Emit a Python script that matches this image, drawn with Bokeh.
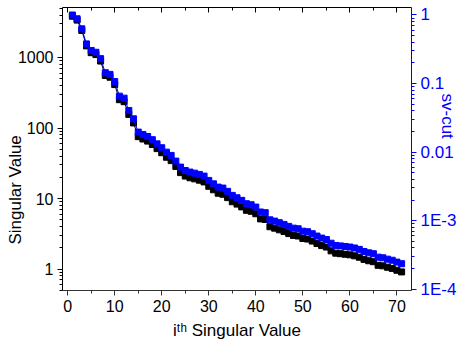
import math
from bokeh.plotting import figure
from bokeh.models import (Range1d, LogScale, LogAxis, LinearAxis, SingleIntervalTicker,
                          LogTicker, CustomJSTickFormatter, ColumnDataSource, Title)
from bokeh.embed import file_html
from bokeh.resources import INLINE

# ---- data ----
index = list(range(1, 72))
singular_value = [3850, 3390, 2420, 1460, 1170, 1100, 890, 555, 525, 413,
                  252, 236, 156, 118, 75.4, 69.8, 65.2, 58.4, 51.0, 44.6,
                  38.5, 34.5, 28.5, 23.3, 20.8, 19.7, 19.0, 18.2, 17.2, 14.9,
                  13.3, 11.9, 11.5, 10.3, 9.0, 8.33, 7.61, 6.81, 6.59, 6.08,
                  5.14, 5.04, 3.98, 3.80, 3.60, 3.40, 3.18, 3.00, 2.94, 2.71,
                  2.66, 2.49, 2.30, 2.15, 2.05, 1.81, 1.68, 1.65, 1.62, 1.59,
                  1.54, 1.47, 1.37, 1.31, 1.27, 1.13, 1.11, 1.06, 1.02, 0.96,
                  0.91]
sv_cut = [1.0, 0.881, 0.629, 0.379, 0.304, 0.286, 0.231, 0.144, 0.136, 0.107,
          0.0655, 0.0613, 0.0405, 0.0306, 0.0196, 0.0181, 0.0169, 0.0152, 0.0132, 0.0116,
          0.0100, 0.00896, 0.00740, 0.00605, 0.00540, 0.00512, 0.00494, 0.00473, 0.00447, 0.00387,
          0.00345, 0.00309, 0.00299, 0.00268, 0.00234, 0.00216, 0.00198, 0.00177, 0.00171, 0.00158,
          0.00134, 0.00131, 0.00103, 0.000987, 0.000935, 0.000883, 0.000826, 0.000779, 0.000764, 0.000704,
          0.000691, 0.000647, 0.000597, 0.000558, 0.000532, 0.000470, 0.000436, 0.000429, 0.000421, 0.000413,
          0.000400, 0.000382, 0.000356, 0.000340, 0.000330, 0.000294, 0.000288, 0.000275, 0.000265, 0.000249,
          0.000236]

x_title = "i\u1d57\u02b0 Singular Value"
y_title = "Singular Value"
y2_title = "sv-cut"

FONT = "Liberation Sans"
BLUE = "#0000FF"

src = ColumnDataSource(dict(x=index, sv=singular_value, cut=sv_cut))

p = figure(width=461, height=343, output_backend="svg", toolbar_location=None,
           x_range=Range1d(-1.1, 73.1), y_range=Range1d(0.496, 5117),
           y_axis_type="log", x_axis_location=None, y_axis_location=None,
           min_border_left=62, min_border_right=50, min_border_top=7, min_border_bottom=53)
p.extra_y_ranges = {"cut": Range1d(9.6e-5, 1.286)}
p.extra_y_scales = {"cut": LogScale()}
p.xgrid.visible = False
p.ygrid.visible = False
p.outline_line_color = None
p.background_fill_color = "white"
p.border_fill_color = "white"

# bottom axis
xb = LinearAxis(ticker=SingleIntervalTicker(interval=10, num_minor_ticks=2), axis_label=x_title)
xb.major_tick_out = 5
xb.major_tick_in = 0
xb.minor_tick_out = 3
xb.minor_tick_in = 0
xb.axis_line_color = "#333333"
xb.major_tick_line_color = "#333333"
xb.minor_tick_line_color = "#333333"
xb.major_label_text_font = FONT
xb.major_label_text_font_size = "16px"
xb.major_label_text_color = "black"
xb.major_label_standoff = 4
xb.axis_label_standoff = 6
xb.axis_label_text_font = FONT
xb.axis_label_text_font_size = "17px"
xb.axis_label_text_font_style = "normal"
xb.axis_label_text_color = "black"
p.add_layout(xb, "below")

# top axis (ticks only)
xt = LinearAxis(ticker=SingleIntervalTicker(interval=10, num_minor_ticks=2),
                formatter=CustomJSTickFormatter(code="return ''"))
xt.major_tick_out = 0
xt.major_tick_in = 5
xt.minor_tick_out = 0
xt.minor_tick_in = 3
xt.major_label_standoff = 0
xt.major_label_text_font_size = "1px"
xt.axis_line_color = "black"
p.add_layout(xt, "above")

# left axis
yl = LogAxis(ticker=LogTicker(num_minor_ticks=10),
             formatter=CustomJSTickFormatter(code="return Math.round(tick).toString()"))
yl.major_tick_out = 5
yl.major_tick_in = 0
yl.minor_tick_out = 3
yl.minor_tick_in = 0
yl.axis_line_color = "black"
yl.major_label_text_font = FONT
yl.major_label_text_font_size = "16px"
yl.major_label_text_color = "black"
yl.major_label_standoff = 4
p.add_layout(yl, "left")

# left title, placed off-centre like the original
p.add_layout(Title(text=y_title, align="left", offset=46, vertical_align="bottom",
                   standoff=-21, text_font=FONT, text_font_size="17px",
                   text_font_style="normal", text_color="black"), "left")

# right axis
yr = LogAxis(y_range_name="cut", ticker=LogTicker(num_minor_ticks=10),
             formatter=CustomJSTickFormatter(code="""
const e = Math.round(Math.log10(tick));
if (e >= 0) return '1';
if (e >= -2) return tick.toFixed(-e);
return '1E' + e;
"""))
yr.major_tick_out = 5
yr.major_tick_in = 0
yr.minor_tick_out = 3
yr.minor_tick_in = 0
yr.axis_line_color = BLUE
yr.major_tick_line_color = BLUE
yr.minor_tick_line_color = BLUE
yr.major_label_text_font = FONT
yr.major_label_text_font_size = "17px"
yr.major_label_text_color = BLUE
yr.major_label_standoff = 4
p.add_layout(yr, "right")

p.add_layout(Title(text=y2_title, align="left", offset=86, vertical_align="bottom",
                   standoff=-44, text_font=FONT, text_font_size="17px",
                   text_font_style="normal", text_color=BLUE), "right")

# data
p.line("x", "sv", source=src, line_color="black", line_width=1)
p.scatter("x", "sv", source=src, marker="square", size=6,
          fill_color="black", line_color="black")
p.line("x", "cut", source=src, line_color=BLUE, line_width=1, y_range_name="cut")
p.scatter("x", "cut", source=src, marker="square", size=6,
          fill_color=BLUE, line_color=BLUE, y_range_name="cut")

open("out.html", "w").write(file_html(p, INLINE))
